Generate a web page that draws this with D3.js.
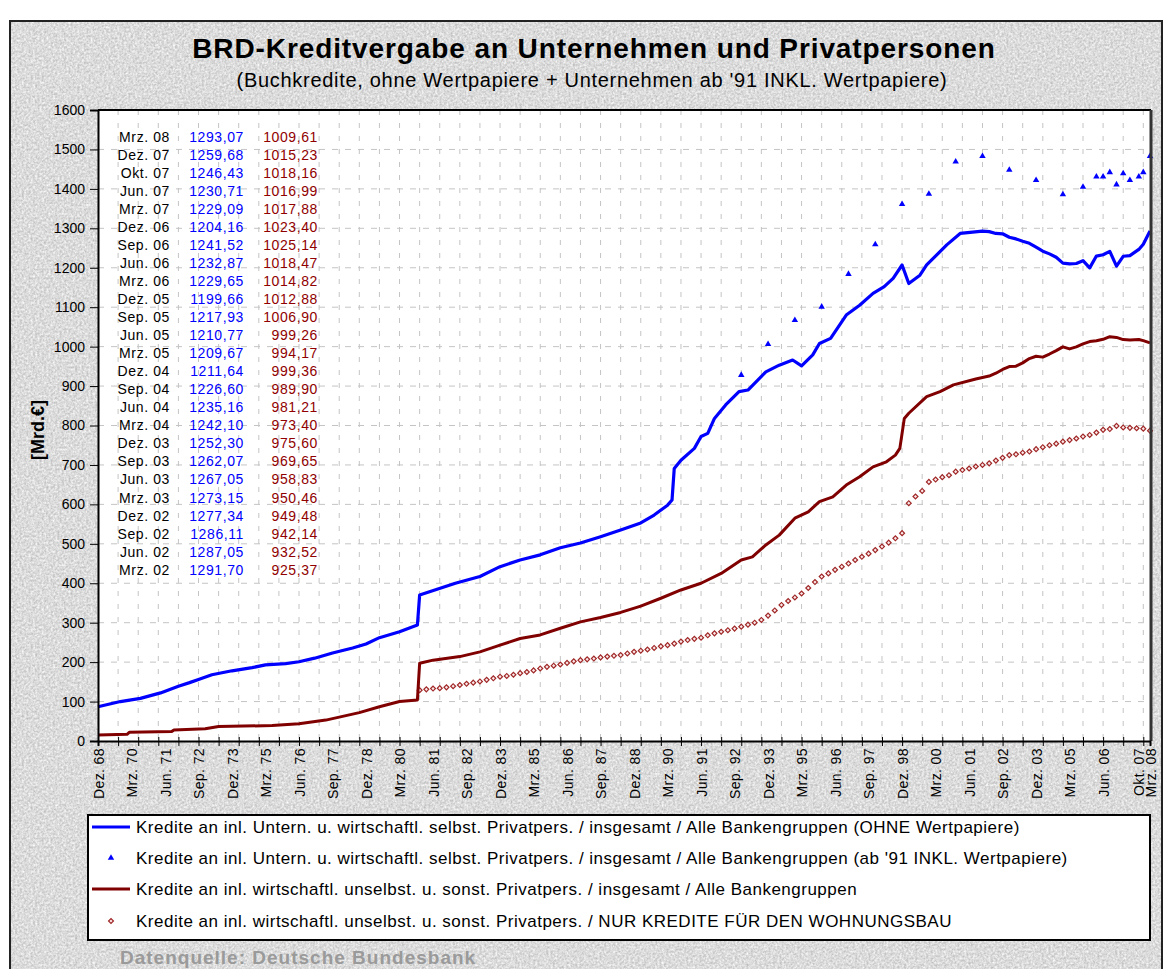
<!DOCTYPE html>
<html>
<head>
<meta charset="utf-8">
<title>BRD-Kreditvergabe an Unternehmen und Privatpersonen</title>
<script src="https://cdn.jsdelivr.net/npm/d3@7"></script>
<style>
    body { margin: 0; background: #fff; }
    svg { display: block; }
    text { font-family: "Liberation Sans", Arial, sans-serif; }
</style>
</head>
<body>
<div id="chart"></div>
<script>
// labels under the x axis (Excel shows every 15th month + the last one)
var xTickLabels = ["Dez. 68","Mrz. 70","Jun. 71","Sep. 72","Dez. 73","Mrz. 75","Jun. 76","Sep. 77",
    "Dez. 78","Mrz. 80","Jun. 81","Sep. 82","Dez. 83","Mrz. 85","Jun. 86","Sep. 87","Dez. 88",
    "Mrz. 90","Jun. 91","Sep. 92","Dez. 93","Mrz. 95","Jun. 96","Sep. 97","Dez. 98","Mrz. 00",
    "Jun. 01","Sep. 02","Dez. 03","Mrz. 05","Jun. 06","Okt. 07","Mrz. 08"];
var yTicks = [0,100,200,300,400,500,600,700,800,900,1000,1100,1200,1300,1400,1500,1600];

// table in the upper left (also the last points of both lines)
var tableDates = ["Mrz. 08","Dez. 07","Okt. 07","Jun. 07","Mrz. 07","Dez. 06","Sep. 06","Jun. 06",
    "Mrz. 06","Dez. 05","Sep. 05","Jun. 05","Mrz. 05","Dez. 04","Sep. 04","Jun. 04","Mrz. 04",
    "Dez. 03","Sep. 03","Jun. 03","Mrz. 03","Dez. 02","Sep. 02","Jun. 02","Mrz. 02"];
var tableBlue = [1293.07,1259.68,1246.43,1230.71,1229.09,1204.16,1241.52,1232.87,1229.65,1199.66,
    1217.93,1210.77,1209.67,1211.64,1226.60,1235.16,1242.10,1252.30,1262.07,1267.05,1273.15,
    1277.34,1286.11,1287.05,1291.70];
var tableRed = [1009.61,1015.23,1018.16,1016.99,1017.88,1023.40,1025.14,1018.47,1014.82,1012.88,
    1006.90,999.26,994.17,999.36,989.90,981.21,973.40,975.60,969.65,958.83,950.46,949.48,942.14,
    932.52,925.37];

var blueDates = ["Dez. 68","Okt. 69","Jul. 70","Apr. 71","Dez. 71","Mai. 72","Sep. 72","Mrz. 73",
    "Dez. 73","Sep. 74","Mrz. 75","Dez. 75","Jun. 76","Jan. 77","Sep. 77","Jun. 78","Dez. 78",
    "Jun. 79","Mrz. 80","Nov. 80","Dez. 80","Apr. 82","Mrz. 83","Dez. 83","Sep. 84","Jun. 85",
    "Mrz. 86","Dez. 86","Sep. 87","Jun. 88","Mrz. 89","Sep. 89","Mrz. 90","Mai. 90","Jun. 90",
    "Sep. 90","Mrz. 91","Jun. 91","Sep. 91","Dez. 91","Mai. 92","Nov. 92","Mrz. 93","Nov. 93",
    "Mai. 94","Nov. 94","Mrz. 95","Aug. 95","Nov. 95","Apr. 96","Nov. 96","Mai. 97","Nov. 97",
    "Apr. 98","Aug. 98","Dez. 98","Mrz. 99","Aug. 99","Nov. 99","Aug. 00","Feb. 01","Dez. 01"];
var blueValues = [87,100,108,122,139,148,156,168,178,186,193,196,201,210,223,236,246,262,277,294,
    370,400,417,442,459,472,490,502,518,535,553,573,598,611,691,712,742,772,780,818,852,886,890,
    936,953,966,951,979,1008,1021,1080,1105,1135,1152,1173,1207,1160,1181,1207,1258,1287,1293];

// Unternehmen (ab '91 INKL. Wertpapiere), single markers
var triDates = ["Dez. 92","Dez. 93","Dez. 94","Dez. 95","Dez. 96","Dez. 97","Dez. 98","Dez. 99",
    "Dez. 00","Dez. 01","Dez. 02","Dez. 03","Dez. 04","Sep. 05","Mrz. 06","Jun. 06","Sep. 06",
    "Dez. 06","Mrz. 07","Jun. 07","Okt. 07","Dez. 07","Mrz. 08"];
var triValues = [928,1006,1067,1101,1184,1259,1361,1387,1469,1483,1448,1422,1386,1405,1431,1431,
    1442,1411,1439,1422,1431,1442,1483];

// unselbst. u. sonst. Privatpers. insgesamt, up to end of 2001
var redDates = ["Dez. 68","Jan. 70","Feb. 70","Sep. 71","Okt. 71","Dez. 72","Jun. 73","Jun. 75",
    "Jun. 76","Jun. 77","Sep. 78","Jun. 79","Mrz. 80","Nov. 80","Dez. 80","Jun. 81","Jun. 82",
    "Mrz. 83","Dez. 83","Sep. 84","Jun. 85","Mrz. 86","Dez. 86","Sep. 87","Jun. 88","Mrz. 89",
    "Dez. 89","Sep. 90","Jun. 91","Mrz. 92","Dez. 92","Mai. 93","Nov. 93","Mai. 94","Dez. 94",
    "Jun. 95","Nov. 95","Mai. 96","Nov. 96","Mai. 97","Nov. 97","Mai. 98","Sep. 98","Nov. 98",
    "Jan. 99","Mrz. 99","Nov. 99","Mai. 00","Nov. 00","Sep. 01"];
var redValues = [15,17,22,24,28,31,37,39,44,53,72,87,100,104,197,205,214,226,243,260,269,286,302,
    313,326,342,362,383,400,425,459,467,497,522,565,581,607,619,649,670,695,708,725,742,818,831,
    873,886,903,918];

// NUR Wohnungsbau, quarterly from Dez. 80 to Mrz. 08
var housingStart = "Dez. 80";
var housingValues = [129,131,133,134,136,139,142,145,148,151,155,159,163,165,168,172,175,179,184,
    188,191,194,198,202,205,207,209,212,214,216,218,222,226,229,232,236,240,243,247,252,256,259,
    262,268,273,277,281,285,290,295,300,307,318,331,345,355,364,374,388,403,417,425,434,442,450,
    459,467,475,484,493,503,514,527,603,620,634,657,663,669,674,683,687,691,696,700,704,711,718,
    725,727,731,734,740,745,750,754,759,763,767,772,776,782,789,791,799,795,794,793,792,787];

var legendLabels = [
    "Kredite an inl. Untern. u. wirtschaftl. selbst. Privatpers. / insgesamt / Alle Bankengruppen (OHNE Wertpapiere)",
    "Kredite an inl. Untern. u. wirtschaftl. selbst. Privatpers. / insgesamt / Alle Bankengruppen (ab '91 INKL. Wertpapiere)",
    "Kredite an inl. wirtschaftl. unselbst. u. sonst. Privatpers. / insgesamt / Alle Bankengruppen",
    "Kredite an inl. wirtschaftl. unselbst. u. sonst. Privatpers. / NUR KREDITE FÜR DEN WOHNUNGSBAU"
];

var BLUE = "#0000ff", RED = "#800000";

// "Mrz. 08" -> months since Dez. 68
var monthNr = {Jan:1,Feb:2,Mrz:3,Apr:4,Mai:5,Jun:6,Jul:7,Aug:8,Sep:9,Okt:10,Nov:11,Dez:12};
function monthIndex(label){
    var m = monthNr[label.substr(0,3)];
    var yy = +label.slice(-2);
    var year = yy > 50 ? 1900 + yy : 2000 + yy;
    return (year - 1968) * 12 + (m - 12);
}

function pairs(dates, values){
    return dates.map(function(d,i){ return {m: monthIndex(d), v: values[i]}; });
}

function createChart(){
    var width = 1166, height = 969;
    var left = 98, right = 1150, top = 110, bottom = 741;

    var svg = d3.select("#chart").append("svg")
        .attr("width", width).attr("height", height);

    // granite background
    var defs = svg.append("defs");
    var filter = defs.append("filter").attr("id","granite")
        .attr("color-interpolation-filters","sRGB")
        .attr("x",0).attr("y",0).attr("width","100%").attr("height","100%");
    filter.append("feTurbulence").attr("type","fractalNoise")
        .attr("baseFrequency","0.45").attr("numOctaves",3).attr("seed",4);
    filter.append("feColorMatrix").attr("type","matrix")
        .attr("values","0.32 0 0 0 0.7  0.32 0 0 0 0.7  0.32 0 0 0 0.7  0 0 0 0 1");

    svg.append("rect").attr("x",10).attr("y",21).attr("width",1152).attr("height",960)
        .attr("filter","url(#granite)");
    svg.append("rect").attr("x",10).attr("y",21).attr("width",1152).attr("height",960)
        .attr("fill","none").attr("stroke","#222").attr("stroke-width",2);

    // title
    svg.append("text").attr("x",594).attr("y",58).attr("text-anchor","middle")
        .style("font-size","28px").style("font-weight","bold").style("letter-spacing","0.9px")
        .text("BRD-Kreditvergabe an Unternehmen und Privatpersonen");
    svg.append("text").attr("x",592).attr("y",87).attr("text-anchor","middle")
        .style("font-size","20px").style("letter-spacing","0.7px")
        .text("(Buchkredite, ohne Wertpapiere + Unternehmen ab '91 INKL. Wertpapiere)");

    var last = monthIndex(xTickLabels[xTickLabels.length-1]);
    var x = d3.scaleLinear().domain([0, last]).range([left, right]);
    var y = d3.scaleLinear().domain([0, 1600]).range([bottom, top]);

    svg.append("rect").attr("x",left).attr("y",top).attr("width",right-left).attr("height",bottom-top)
        .attr("fill","#fff");

    // gridlines
    var minorMonths = d3.range(0, last + 1, 9);
    svg.append("g").selectAll("line").data(minorMonths.slice(1)).enter().append("line")
        .attr("x1", function(d){ return x(d); }).attr("x2", function(d){ return x(d); })
        .attr("y1", top).attr("y2", bottom)
        .attr("stroke","#c4c4c4").attr("stroke-dasharray","5,8");
    svg.append("g").selectAll("line").data(yTicks.slice(1, -1)).enter().append("line")
        .attr("x1", left).attr("x2", right)
        .attr("y1", function(d){ return y(d); }).attr("y2", function(d){ return y(d); })
        .attr("stroke","#c4c4c4").attr("stroke-dasharray","6,7");

    // value table
    var fmt = d3.formatLocale({decimal: ",", thousands: "", grouping: [3], currency: ["","€"]}).format(".2f");
    var table = svg.append("g").style("font-size","14px").style("letter-spacing","0.6px");
    tableDates.forEach(function(d,i){
        var ty = 141.5 + i * 18.05;
        table.append("text").attr("x",170).attr("y",ty).attr("text-anchor","end").attr("fill","#000").text(d);
        table.append("text").attr("x",244).attr("y",ty).attr("text-anchor","end").attr("fill",BLUE).text(fmt(tableBlue[i]));
        table.append("text").attr("x",318).attr("y",ty).attr("text-anchor","end").attr("fill","#900000").text(fmt(tableRed[i]));
    });

    // series
    var blueData = pairs(blueDates, blueValues).concat(pairs(tableDates, tableBlue).reverse());
    var redData = pairs(redDates, redValues).concat(pairs(tableDates, tableRed).reverse());
    var triData = pairs(triDates, triValues);
    var h0 = monthIndex(housingStart);
    var housingData = housingValues.map(function(v,i){ return {m: h0 + 3*i, v: v}; });

    var line = d3.line().x(function(d){ return x(d.m); }).y(function(d){ return y(d.v); });

    svg.append("g").selectAll("path").data(housingData).enter().append("path")
        .attr("d", d3.symbol().type(d3.symbolSquare).size(12))
        .attr("transform", function(d){ return "translate(" + x(d.m) + "," + y(d.v) + ") rotate(45)"; })
        .attr("fill","#fbe8e8").attr("stroke","#a02828").attr("stroke-width",1.2);

    svg.append("path").datum(redData).attr("d", line)
        .attr("fill","none").attr("stroke",RED).attr("stroke-width",3).attr("stroke-linejoin","round");
    svg.append("path").datum(blueData).attr("d", line)
        .attr("fill","none").attr("stroke",BLUE).attr("stroke-width",3.2).attr("stroke-linejoin","round");

    svg.append("g").selectAll("path").data(triData).enter().append("path")
        .attr("d", d3.symbol().type(d3.symbolTriangle).size(18))
        .attr("transform", function(d){ return "translate(" + x(d.m) + "," + y(d.v) + ")"; })
        .attr("fill",BLUE);

    // plot frame (top + right)
    svg.append("line").attr("x1",left).attr("x2",right+1).attr("y1",top).attr("y2",top)
        .attr("stroke","#000").attr("stroke-width",2);
    svg.append("line").attr("x1",right+1).attr("x2",right+1).attr("y1",top).attr("y2",bottom)
        .attr("stroke","#333").attr("stroke-width",3);

    // y axis
    var yAxis = svg.append("g").attr("transform","translate(" + left + ",0)")
        .call(d3.axisLeft(y).tickValues(yTicks).tickSize(8).tickPadding(5).tickFormat(d3.format("d")));
    yAxis.select(".domain").attr("stroke-width",2);
    yAxis.selectAll("text").style("font-size","14px").style("font-family","'Liberation Sans', Arial, sans-serif");

    svg.append("text")
        .attr("transform","translate(44,430) rotate(-90)")
        .attr("text-anchor","middle")
        .style("font-size","18px").style("font-weight","bold")
        .text("[Mrd.€]");

    // x axis: crossing tick marks every 9 months
    var xMinor = svg.append("g").attr("transform","translate(0," + bottom + ")")
        .call(d3.axisBottom(x).tickValues(minorMonths).tickSize(5).tickFormat(""));
    xMinor.select(".domain").attr("stroke-width",2);
    svg.append("g").attr("transform","translate(0," + bottom + ")")
        .call(d3.axisTop(x).tickValues(minorMonths).tickSize(4).tickFormat(""))
        .select(".domain").remove();

    var labelMonths = xTickLabels.map(monthIndex);
    var xLabels = svg.append("g").attr("transform","translate(0," + bottom + ")")
        .call(d3.axisBottom(x).tickValues(labelMonths).tickSize(0)
            .tickFormat(function(d,i){ return xTickLabels[i]; }));
    xLabels.select(".domain").remove();
    xLabels.selectAll("text")
        .attr("transform","rotate(-90)")
        .attr("x",-7).attr("y",0).attr("dy","0.36em")
        .style("text-anchor","end")
        .style("font-size","14px").style("letter-spacing","0.4px")
        .style("font-family","'Liberation Sans', Arial, sans-serif");

    // legend
    var legend = svg.append("g");
    legend.append("rect").attr("x",88).attr("y",815).attr("width",1062).attr("height",125)
        .attr("fill","#fff").attr("stroke","#000").attr("stroke-width",2);
    var rowY = [827, 858, 889, 921];
    legendLabels.forEach(function(t,i){
        legend.append("text").attr("x",136).attr("y",rowY[i]).attr("dy","0.35em")
            .style("font-size","17px").style("letter-spacing","0.5px").text(t);
    });
    legend.append("line").attr("x1",92).attr("x2",130).attr("y1",rowY[0]).attr("y2",rowY[0])
        .attr("stroke",BLUE).attr("stroke-width",3.2);
    legend.append("path").attr("d", d3.symbol().type(d3.symbolTriangle).size(18))
        .attr("transform","translate(111," + rowY[1] + ")").attr("fill",BLUE);
    legend.append("line").attr("x1",92).attr("x2",130).attr("y1",rowY[2]).attr("y2",rowY[2])
        .attr("stroke",RED).attr("stroke-width",3);
    legend.append("path").attr("d", d3.symbol().type(d3.symbolSquare).size(12))
        .attr("transform","translate(111," + rowY[3] + ") rotate(45)")
        .attr("fill","#fbe8e8").attr("stroke","#a02828").attr("stroke-width",1.2);

    // source
    svg.append("text").attr("x",120).attr("y",964)
        .style("font-size","19px").style("font-weight","bold").style("letter-spacing","1px")
        .attr("fill","#9a9a9a")
        .text("Datenquelle: Deutsche Bundesbank");
}

createChart();
</script>
</body>
</html>
